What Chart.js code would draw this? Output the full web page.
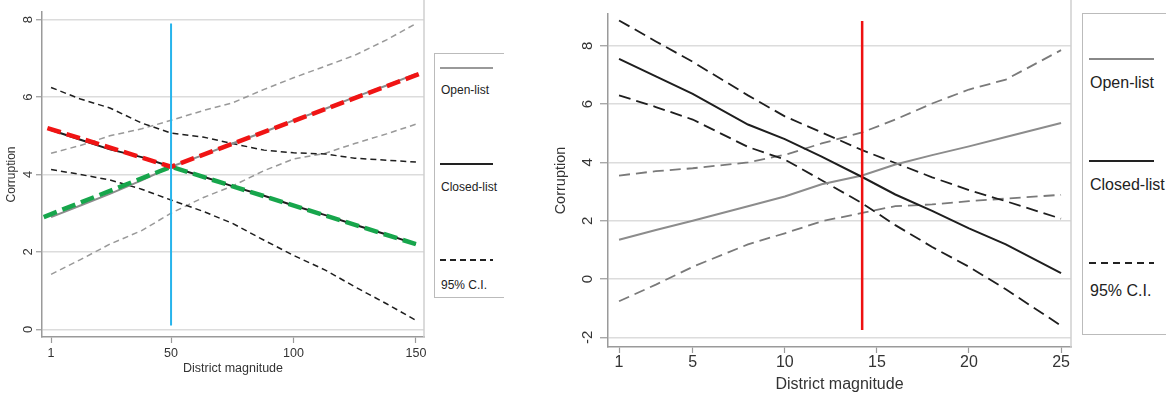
<!DOCTYPE html>
<html>
<head>
<meta charset="utf-8">
<script src="https://cdn.jsdelivr.net/npm/chart.js@4/dist/chart.umd.min.js"></script>
<style>
    body { margin: 0; background: #fff; width: 1166px; height: 394px; overflow: hidden; position: relative;
           font-family: "Liberation Sans", Arial, sans-serif; }
    canvas { position: absolute; top: 0; }
    #left-chart { left: 0; }
    #right-chart { left: 540px; }
    .legend-box { position: absolute; border: 1px solid #bbb; border-right: none; background: #fff; color: #222; }
    .legend-line { position: absolute; height: 2px; }
    .legend-text { position: absolute; white-space: nowrap; transform: translateY(-50%); }
</style>
</head>
<body>
<canvas id="left-chart" width="432" height="394"></canvas>
<canvas id="right-chart" width="536" height="394"></canvas>
<div id="left-legend" class="legend-box"></div>
<div id="right-legend" class="legend-box"></div>

<script>
    // ---------- data: left panel (district magnitude 1..150) ----------
    const leftX = [1, 13, 25, 38, 50, 63, 75, 88, 100, 113, 125, 138, 150];
    const leftOpen = [2.9, 3.2, 3.5, 3.85, 4.2, 4.5, 4.8, 5.1, 5.4, 5.7, 6.0, 6.3, 6.6];
    const leftOpenHi = [4.55, 4.75, 5.0, 5.18, 5.4, 5.65, 5.85, 6.2, 6.5, 6.8, 7.08, 7.48, 7.9];
    const leftOpenLo = [1.42, 1.8, 2.2, 2.55, 3.0, 3.4, 3.7, 4.1, 4.4, 4.55, 4.8, 5.05, 5.3];
    const leftClosed = [5.15, 4.9, 4.65, 4.45, 4.2, 3.95, 3.7, 3.45, 3.2, 2.95, 2.7, 2.45, 2.2];
    const leftClosedHi = [6.25, 5.95, 5.72, 5.33, 5.07, 4.97, 4.8, 4.63, 4.56, 4.53, 4.42, 4.37, 4.32];
    const leftClosedLo = [4.13, 4.0, 3.86, 3.62, 3.34, 3.05, 2.74, 2.3, 1.91, 1.53, 1.1, 0.66, 0.23];
    // highlight lines drawn over the estimates
    const redX = [-0.5, 50, 151.5];
    const redY = [5.2, 4.2, 6.6];
    const greenX = [-2, 50, 150];
    const greenY = [2.9, 4.2, 2.2];
    const blueX = [50, 50];
    const blueY = [0.1, 7.9];
    const leftXTicks = [1, 50, 100, 150];
    const leftYTicks = [0, 2, 4, 6, 8];

    // ---------- data: right panel (district magnitude 1..25) ----------
    const rightX = [1, 3, 5, 8, 10, 12, 14.2, 16, 18, 20, 22, 25];
    const rightOpen = [1.35, 1.68, 2.0, 2.5, 2.83, 3.25, 3.55, 3.93, 4.25, 4.55, 4.87, 5.35];
    const rightOpenHi = [3.55, 3.7, 3.8, 4.0, 4.26, 4.65, 5.03, 5.47, 6.02, 6.5, 6.84, 7.85];
    const rightOpenLo = [-0.76, -0.19, 0.42, 1.19, 1.57, 1.98, 2.27, 2.5, 2.56, 2.67, 2.76, 2.89];
    const rightClosed = [7.55, 6.95, 6.35, 5.3, 4.8, 4.2, 3.5, 2.9, 2.34, 1.74, 1.19, 0.2];
    const rightClosedHi = [8.87, 8.15, 7.45, 6.3, 5.58, 5.03, 4.42, 3.98, 3.49, 3.05, 2.67, 2.07];
    const rightClosedLo = [6.3, 5.9, 5.47, 4.53, 4.1, 3.39, 2.6, 1.85, 1.1, 0.42, -0.35, -1.6];
    const redLineX = [14.2, 14.2];
    const redLineY = [-1.75, 8.85];
    const rightXTicks = [1, 5, 10, 15, 20, 25];
    const rightYTicks = [-2, 0, 2, 4, 6, 8];

    const legendNames = ['Open-list', 'Closed-list', '95% C.I.'];

    const GRAY = '#8c8c8c';
    const BLACK = '#1e1e1e';
    const AXIS = '#9a9a9a';
    const GRID = '#dcdcdc';

    function points(xs, ys) {
        return xs.map((x, i) => ({x: x, y: ys[i]}));
    }

    // Chart.js paints the first dataset on top, so lists below go top -> bottom
    function lineSet(xs, ys, color, width, dash) {
        return {
            data: points(xs, ys),
            borderColor: color,
            borderWidth: width,
            borderDash: dash || [],
            pointRadius: 0,
            tension: 0,
            fill: false,
        };
    }

    // light right edge of the plot region
    const framePlugin = {
        id: 'frame',
        beforeDatasetsDraw(chart) {
            const ctx = chart.ctx;
            const area = chart.chartArea;
            ctx.save();
            ctx.strokeStyle = '#cfcfcf';
            ctx.lineWidth = 1.5;
            ctx.beginPath();
            ctx.moveTo(area.right, 0);
            ctx.lineTo(area.right, area.bottom);
            ctx.stroke();
            ctx.restore();
        }
    };

    function makeOptions(cfg) {
        return {
            responsive: false,
            animation: false,
            devicePixelRatio: 1,
            layout: {padding: cfg.padding},
            plugins: {legend: {display: false}, tooltip: {enabled: false}},
            scales: {
                x: {
                    type: 'linear',
                    min: cfg.xMin,
                    max: cfg.xMax,
                    afterBuildTicks: (scale) => { scale.ticks = cfg.xTicks.map(v => ({value: v})); },
                    afterFit: (scale) => { scale.height = cfg.xHeight; },
                    grid: {drawOnChartArea: false, drawTicks: true, tickLength: 6, tickColor: AXIS, tickWidth: 1.2},
                    border: {color: AXIS, width: 1.5},
                    ticks: {color: '#333', font: {size: cfg.xFont, family: 'Liberation Sans'}, padding: cfg.xPad, maxRotation: 0},
                    title: {display: true, text: 'District magnitude', color: '#333',
                            font: {size: cfg.xFont, family: 'Liberation Sans'}, padding: {top: 0, bottom: cfg.xTitlePad}},
                },
                y: {
                    type: 'linear',
                    min: cfg.yMin,
                    max: cfg.yMax,
                    afterBuildTicks: (scale) => { scale.ticks = cfg.yTicks.map(v => ({value: v})); },
                    afterFit: (scale) => { scale.width = cfg.yWidth; },
                    grid: {color: GRID, lineWidth: 1.5, tickLength: cfg.yTick, tickColor: AXIS, tickWidth: 1.2},
                    border: {color: AXIS, width: 1.5},
                    ticks: {color: '#333', font: {size: cfg.yFont, family: 'Liberation Sans'}, padding: cfg.yPad,
                            minRotation: 90, maxRotation: 90, crossAlign: 'center'},
                    title: {display: true, text: 'Corruption', color: '#333',
                            font: {size: cfg.yTitleFont, family: 'Liberation Sans'}, padding: {top: cfg.yTitlePad, bottom: 0}},
                },
            },
        };
    }

    /********************* left chart *********************/
    new Chart(document.getElementById('left-chart'), {
        type: 'line',
        data: {
            datasets: [
                lineSet(blueX, blueY, '#27b4ec', 2),
                lineSet(redX, redY, '#f01414', 4.5, [14, 6]),
                lineSet(greenX, greenY, '#17a64c', 4.5, [14, 6]),
                lineSet(leftX, leftClosed, BLACK, 2),
                lineSet(leftX, leftOpen, GRAY, 2),
                lineSet(leftX, leftClosedHi, BLACK, 1.5, [6, 4]),
                lineSet(leftX, leftClosedLo, BLACK, 1.5, [6, 4]),
                lineSet(leftX, leftOpenHi, '#999', 1.5, [6, 4]),
                lineSet(leftX, leftOpenLo, '#999', 1.5, [6, 4]),
            ]
        },
        options: makeOptions({
            padding: {top: 12, right: 8, left: 0, bottom: 0},
            xMin: -2.7, xMax: 153.3, xTicks: leftXTicks, xHeight: 57, xFont: 12.5, xPad: 3, xTitlePad: 18,
            yMin: -0.2, yMax: 8.2, yTicks: leftYTicks, yWidth: 42, yFont: 13, yPad: 4, yTick: 6,
            yTitleFont: 12, yTitlePad: 4,
        }),
        plugins: [framePlugin],
    });

    /********************* right chart *********************/
    new Chart(document.getElementById('right-chart'), {
        type: 'line',
        data: {
            datasets: [
                lineSet(redLineX, redLineY, '#ee1111', 2.5),
                lineSet(rightX, rightClosed, BLACK, 2),
                lineSet(rightX, rightOpen, GRAY, 2),
                lineSet(rightX, rightClosedHi, BLACK, 1.8, [12, 6]),
                lineSet(rightX, rightClosedLo, BLACK, 1.8, [12, 6]),
                lineSet(rightX, rightOpenHi, '#7a7a7a', 1.8, [11, 6]),
                lineSet(rightX, rightOpenLo, '#7a7a7a', 1.8, [11, 6]),
            ]
        },
        options: makeOptions({
            padding: {top: 0, right: 5, left: 0, bottom: 0},
            xMin: 0.4, xMax: 25.54, xTicks: rightXTicks, xHeight: 47, xFont: 16, xPad: 0, xTitlePad: 0,
            yMin: -2.33, yMax: 9.09, yTicks: rightYTicks, yWidth: 68, yFont: 15, yPad: 5, yTick: 8,
            yTitleFont: 14.5, yTitlePad: 12,
        }),
        plugins: [framePlugin],
    });

    /********************* legends *********************/
    function buildLegend(id, box, items, font) {
        var legend = document.getElementById(id);
        legend.style.left = box.left + 'px';
        legend.style.top = box.top + 'px';
        legend.style.width = box.width + 'px';
        legend.style.height = box.height + 'px';
        legend.style.fontSize = font + 'px';
        for (var i = 0; i < legendNames.length; i++) {
            var line = document.createElement('div');
            line.className = 'legend-line';
            line.style.left = box.lineLeft + 'px';
            line.style.width = box.lineWidth + 'px';
            line.style.top = items[i].lineTop + 'px';
            line.style.background = items[i].style;
            legend.appendChild(line);

            var text = document.createElement('div');
            text.className = 'legend-text';
            text.style.left = box.textLeft + 'px';
            text.style.top = items[i].textTop + 'px';
            text.textContent = legendNames[i];
            legend.appendChild(text);
        }
    }

    buildLegend('left-legend',
        {left: 434, top: 53, width: 69, height: 243, lineLeft: 5, lineWidth: 53, textLeft: 6},
        [
            {lineTop: 13, textTop: 36, style: '#999'},
            {lineTop: 109, textTop: 133, style: '#222'},
            {lineTop: 205, textTop: 231, style: 'repeating-linear-gradient(90deg, #222 0 6px, transparent 6px 10px)'},
        ], 12);

    buildLegend('right-legend',
        {left: 1082, top: 13, width: 100, height: 320, lineLeft: 6, lineWidth: 65, textLeft: 7},
        [
            {lineTop: 44, textTop: 69, style: '#888'},
            {lineTop: 146, textTop: 171, style: '#222'},
            {lineTop: 248, textTop: 277, style: 'repeating-linear-gradient(90deg, #222 0 7px, transparent 7px 12px)'},
        ], 16);
</script>
</body>
</html>
